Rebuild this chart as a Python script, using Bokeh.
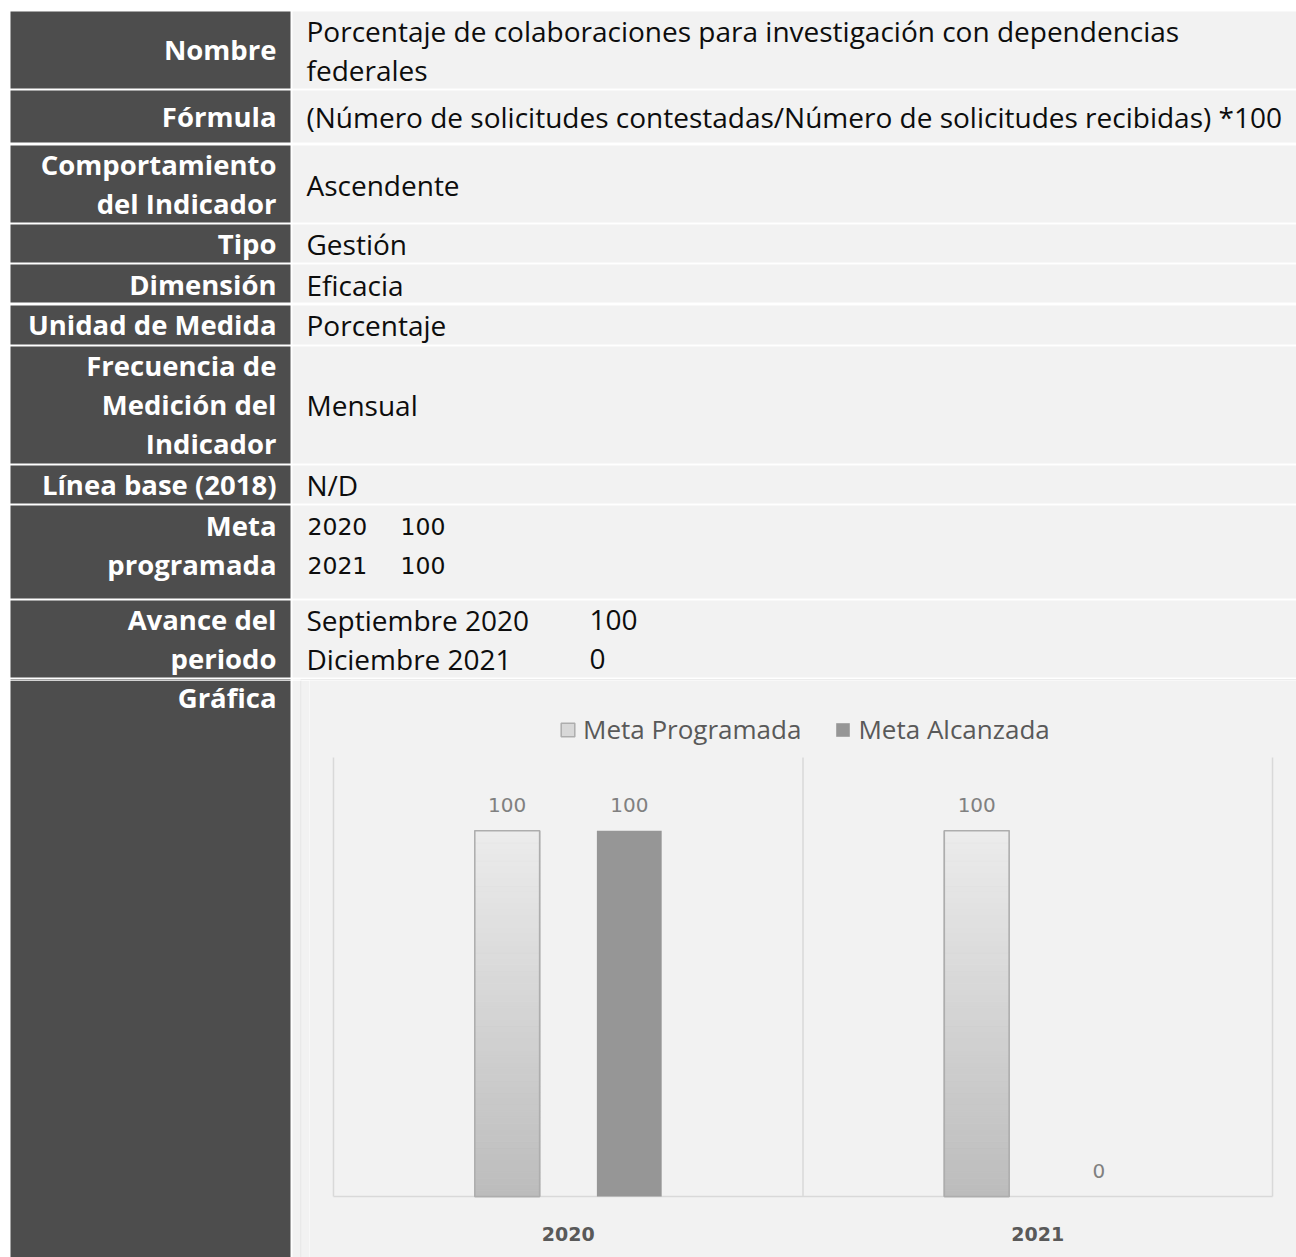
from bokeh.plotting import figure
from bokeh.layouts import column, row
from bokeh.models import Range1d, FactorRange, ColumnDataSource, Legend, LegendItem
from bokeh.transform import dodge
from bokeh.core.properties import value
from bokeh.embed import file_html
from bokeh.resources import INLINE

# ---------------- data ----------------
row_labels = [
    "Nombre", "Fórmula", "Comportamiento\ndel Indicador", "Tipo", "Dimensión",
    "Unidad de Medida", "Frecuencia de\nMedición del\nIndicador", "Línea base (2018)",
    "Meta\nprogramada", "Avance del\nperiodo", "Gráfica",
]
row_values = [
    "Porcentaje de colaboraciones para investigación con dependencias\nfederales",
    "(Número de solicitudes contestadas/Número de solicitudes recibidas) *100",
    "Ascendente", "Gestión", "Eficacia", "Porcentaje", "Mensual", "N/D",
]
years = ["2020", "2021"]
meta_programada = [100, 100]
meta_alcanzada = [100, 0]
avance_periodos = ["Septiembre 2020", "Diciembre 2021"]
avance_valores = [100, 0]
series_names = ["Meta Programada", "Meta Alcanzada"]

# ---------------- layout constants ----------------
FONT = "Open Sans"
DARK = "#4d4d4d"
LIGHT = "#f2f2f2"
GRIDC = "#d9d9d9"
row_top = [11, 90, 145, 224, 264, 305, 346, 465, 505, 600]
row_bot = [88, 142, 222, 262, 302, 344, 463, 503, 598, 677]
label_cy = [49, 116, 183.5, 243, 284, 324, 404, 484, 544.5, 638.5]
value_cy = [49.5, 116, 184, 243, 284, 324, 404, 484]
LINE = 39
LAB_X = 276
VAL_X = 306
LAB_SIZE = "27.5px"
VAL_SIZE = "28px"


def lines_at(text, cy):
    parts = text.split("\n")
    n = len(parts)
    return [(p, cy + (i - (n - 1) / 2) * LINE) for i, p in enumerate(parts)]


def blank_fig(w, h, xr, yr, bg="white"):
    f = figure(width=w, height=h, x_range=xr, y_range=yr,
               output_backend="svg", toolbar_location=None, min_border=0,
               x_axis_location=None, y_axis_location=None,
               background_fill_color=bg, border_fill_color=bg, outline_line_color=None)
    f.grid.visible = False
    return f


# ---------------- top table figure ----------------
top = blank_fig(1296, 680, Range1d(0, 1296), Range1d(680, 0))

top.quad(left=[10] * len(row_top), right=[290] * len(row_top), top=row_top, bottom=row_bot,
         fill_color=DARK, line_color=None)
top.quad(left=[292] * len(row_top), right=[1300] * len(row_top), top=row_top, bottom=row_bot,
         fill_color=LIGHT, line_color=None)
# start of the "Gráfica" row
top.quad(left=[10, 292, 300], right=[290, 300, 1300], top=[679, 679, 679], bottom=[681, 681, 681],
         fill_color=[DARK, LIGHT, GRIDC], line_color=None)

lab_t, lab_y = [], []
for lab, cy in zip(row_labels[:-1], label_cy):
    for t, y in lines_at(lab, cy):
        lab_t.append(t)
        lab_y.append(y)
top.text(x=[LAB_X] * len(lab_t), y=lab_y, text=lab_t, text_align="right", text_baseline="middle",
         text_color="white", text_font=value(FONT), text_font_style="bold", text_font_size=LAB_SIZE)

val_t, val_y = [], []
for v, cy in zip(row_values, value_cy):
    for t, y in lines_at(v, cy):
        val_t.append(t)
        val_y.append(y)
top.text(x=[VAL_X] * len(val_t), y=val_y, text=val_t, text_align="left", text_baseline="middle",
         text_color="#0d0d0d", text_font=value(FONT), text_font_size=VAL_SIZE)

# Meta programada lines
meta_y = [525.5, 564.5]
top.text(x=[307] * len(years), y=meta_y, text=years, text_align="left", text_baseline="middle",
         text_color="#0d0d0d", text_font=value("DejaVu Sans"), text_font_size="23.5px")
top.text(x=[400] * len(years), y=meta_y, text=[str(v) for v in meta_programada], text_align="left",
         text_baseline="middle", text_color="#0d0d0d", text_font=value("DejaVu Sans"),
         text_font_size="23.5px")

# Avance del periodo lines
av_y = [619, 658]
top.text(x=[VAL_X] * len(avance_periodos), y=av_y, text=avance_periodos, text_align="left",
         text_baseline="middle", text_color="#0d0d0d", text_font=value(FONT), text_font_size=VAL_SIZE)
top.text(x=[589] * len(avance_valores), y=av_y, text=[str(v) for v in avance_valores],
         text_align="left", text_baseline="middle", text_color="#0d0d0d", text_font=value(FONT),
         text_font_size=VAL_SIZE)

# ---------------- bottom-left (Gráfica label) ----------------
left = blank_fig(309, 577, Range1d(0, 309), Range1d(1257, 680))
left.quad(left=[10, 292, 300, 301], right=[290, 300, 301, 309],
          top=[680] * 4, bottom=[1260] * 4,
          fill_color=[DARK, LIGHT, GRIDC, LIGHT], line_color=None)
left.text(x=[LAB_X], y=[697], text=[row_labels[-1]], text_align="right", text_baseline="middle",
          text_color="white", text_font=value(FONT), text_font_style="bold", text_font_size=LAB_SIZE)

# ---------------- chart ----------------
AXIS_MAX = 120
chart = blank_fig(987, 577,
                  FactorRange(*years, range_padding=0.0511, range_padding_units="absolute"),
                  Range1d(-16.67, 141.05), bg=LIGHT)

# category separator lines and baseline
bounds = list(range(len(years) + 1))
chart.segment(x0=bounds, x1=bounds, y0=[0] * len(bounds), y1=[AXIS_MAX] * len(bounds),
              line_color=GRIDC, line_width=1.5)
chart.segment(x0=[bounds[0]], x1=[bounds[-1]], y0=[0], y1=[0], line_color=GRIDC, line_width=1.5)

src = ColumnDataSource(dict(
    year=years, prog=meta_programada, alc=meta_alcanzada,
    prog_lbl=[str(v) for v in meta_programada], alc_lbl=[str(v) for v in meta_alcanzada],
    zero=[0] * len(years),
))
OFF = 0.13
BW = 0.138
x_prog = dodge("year", -OFF, range=chart.x_range)
x_alc = dodge("year", OFF, range=chart.x_range)

base_prog = chart.vbar(x=x_prog, top="prog", width=BW, source=src,
                       fill_color="#d8d8d8", line_color="#adadad", line_width=1.5)

# gradient fill for "Meta Programada" bars
N = 60
b_year, b_bot, b_top, b_col = [], [], [], []
for yr, v in zip(years, meta_programada):
    for i in range(N):
        frac = (i + 0.5) / N
        g = int(round(188 + (236 - 188) * frac))
        b_year.append(yr)
        b_bot.append(v * i / N)
        b_top.append(v * (i + 1) / N)
        b_col.append("#%02x%02x%02x" % (g, g, g))
bsrc = ColumnDataSource(dict(year=b_year, bottom=b_bot, top=b_top, color=b_col))
chart.vbar(x=x_prog, bottom="bottom", top="top", width=BW, source=bsrc,
           fill_color="color", line_color="color", line_width=0.6)
chart.vbar(x=x_prog, top="prog", width=BW, source=src,
           fill_color=None, line_color="#adadad", line_width=1.5)

alc_r = chart.vbar(x=x_alc, top="alc", width=BW, source=src, fill_color="#969696", line_color=None)

# data labels
for xx, col in ((x_prog, "prog"), (x_alc, "alc")):
    chart.text(x=xx, y=col, text=col + "_lbl", source=src, y_offset=-26,
               text_align="center", text_baseline="middle", text_color="#808080",
               text_font=value("DejaVu Sans"), text_font_size="20px")

# category labels (x axis)
chart.text(x="year", y="zero", text="year", source=src, y_offset=37,
           text_align="center", text_baseline="middle", text_color="#595959",
           text_font=value("DejaVu Sans"), text_font_style="bold", text_font_size="19px")

legend = Legend(items=[LegendItem(label=series_names[0], renderers=[base_prog]),
                       LegendItem(label=series_names[1], renderers=[alc_r])],
                orientation="horizontal", location=(250, 510),
                glyph_width=17, glyph_height=17, label_standoff=7, spacing=33,
                padding=0, margin=0, border_line_color=None, background_fill_alpha=0,
                label_text_font=FONT, label_text_font_size="26px", label_text_color="#595959")
chart.add_layout(legend)

layout = column(top, row(left, chart))
open("out.html", "w").write(file_html(layout, INLINE))
